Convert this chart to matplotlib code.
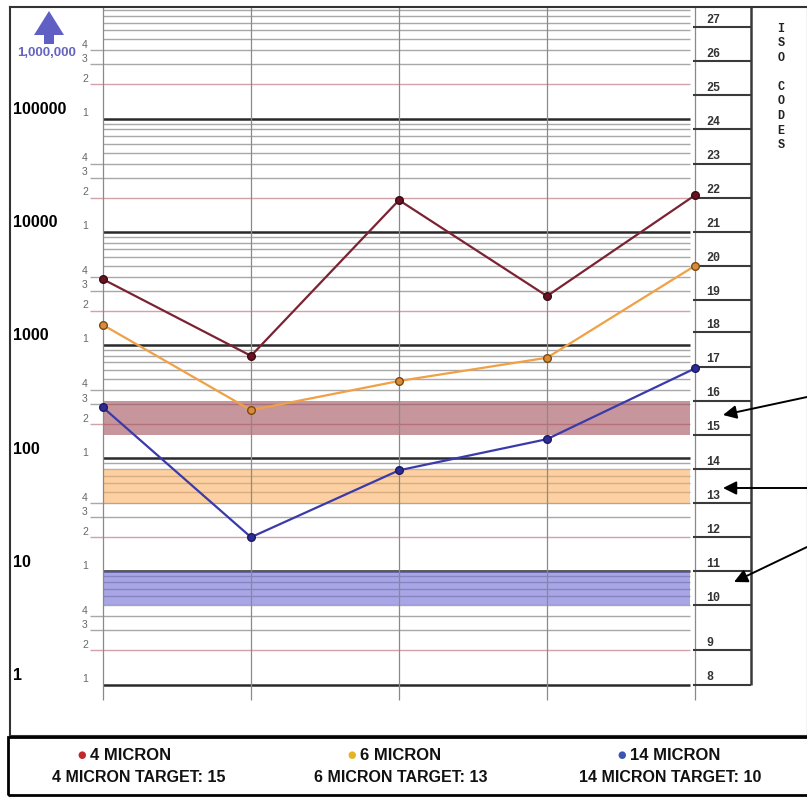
import numpy as np
import matplotlib
matplotlib.use('Agg')
import matplotlib.pyplot as plt
from matplotlib.patches import Rectangle, Polygon
from matplotlib.ticker import NullLocator

# ---------------- data ----------------
samples = [1, 2, 3, 4, 5]
micron4 = [3800, 800, 19000, 2700, 21000]
micron6 = [1500, 265, 480, 770, 5000]
micron14 = [280, 20, 78, 147, 620]
series_names = ['4 MICRON', '6 MICRON', '14 MICRON']
target_labels = ['4 MICRON TARGET: 15', '6 MICRON TARGET: 13', '14 MICRON TARGET: 10']
target_ranges = [(160, 320), (40, 80), (5, 10)]
iso_codes = list(range(8, 28))
iso_lower = [1, 2, 5, 10, 20, 40, 80, 160, 320, 640, 1300, 2500, 5000,
             10000, 20000, 40000, 80000, 160000, 320000, 640000]
decades = [1, 10, 100, 1000, 10000, 100000]
decade_labels = ['1', '10', '100', '1000', '10000', '100000']
minor_labels = ['1', '2', '3', '4']

# ---------------- geometry helpers ----------------
W, H = 807, 797
def px_x(px):
    return (px - 103) / 148.0
def px_y(py):
    return 10 ** ((684.5 - py) / 113.2)
def fx(px):
    return px / W
def fy(py):
    return 1 - py / H

fig = plt.figure(figsize=(W / 100, H / 100), dpi=100)
fig.patch.set_facecolor('white')
ax = fig.add_axes([fx(10), fy(736), (807 - 10) / W, (736 - 7) / H])
ax.set_yscale('log')
ax.set_xlim(px_x(10), px_x(807))
ax.set_ylim(px_y(736), px_y(7))
ax.set_xticks([])
ax.set_yticks([])
ax.yaxis.set_minor_locator(NullLocator())
for s in ['left', 'top', 'bottom']:
    ax.spines[s].set_color('#333333')
    ax.spines[s].set_linewidth(1.5)
ax.spines['right'].set_color('#c8c8c8')
ax.spines['right'].set_linewidth(1)

x0g, x1g, xtk = px_x(103), px_x(690), px_x(90)
top = px_y(7)

# horizontal log-paper lines
for d in decades:
    ax.hlines(d, x0g, x1g, color='#2a2a2a', lw=1.8, zorder=1.2)
    for m in range(2, 10):
        v = d * m
        if v > top:
            continue
        col = '#d2a2aa' if m == 2 else '#a8a8a8'
        xs = xtk if m <= 4 else x0g
        ax.hlines(v, xs, x1g, color=col, lw=1.0, zorder=1.1, clip_on=False)

# target bands (semi-transparent over the paper lines)
band_colors = ['#a3505a', '#fab164', '#716bd5']
for (lo, hi), c in zip(target_ranges, band_colors):
    ax.fill_between([x0g, x1g], lo, hi, color=c, alpha=0.6, lw=0, zorder=1.25)

# vertical gridlines
ax.vlines(range(len(samples)), px_y(700), top, color='#8a8a8a', lw=0.9, zorder=1.3)

# decade labels & minor labels
for d, lab in zip(decades, decade_labels):
    ax.text(px_x(13), d * 10 ** (9 / 113.2), lab, ha='left', va='center',
            fontsize=11.5, fontweight='bold', family='Liberation Sans', color='black')
    for m, ml in zip([1, 2, 3, 4], minor_labels):
        ax.text(px_x(85), d * m * 10 ** (0.5 / 113.2), ml, ha='center', va='bottom',
                fontsize=7.5, color='#666666', family='Liberation Sans')

# ISO code column
ax.hlines(iso_lower, px_x(693), px_x(751), color='#3a3a3a', lw=1.5, zorder=2)
ax.vlines(px_x(751), iso_lower[0], top, color='#3a3a3a', lw=1.8, zorder=2)
for code, lo in zip(iso_codes, iso_lower):
    ax.text(px_x(706), lo * 10 ** (7.5 / 113.2), str(code), ha='left', va='center',
            fontsize=8.5, fontweight='bold', family='Liberation Mono', color='#333333')
for i, ch in enumerate('ISO CODES'):
    if ch == ' ':
        continue
    ax.text(px_x(781), px_y(29 + 14.5 * i), ch, ha='center', va='center',
            fontsize=8.5, fontweight='bold', family='Liberation Mono', color='#222222')

# series
xs = range(len(samples))
ax.plot(xs, micron4, color='#7b2233', lw=1.6, marker='o', ms=5.5,
        mfc='#6a1020', mec='#3a0a12', zorder=5, clip_on=False)
ax.plot(xs, micron6, color='#f0a045', lw=1.6, marker='o', ms=5.5,
        mfc='#d98a3a', mec='#7a4a10', zorder=5, clip_on=False)
ax.plot(xs, micron14, color='#3a3aaa', lw=1.6, marker='o', ms=5.5,
        mfc='#2c2c98', mec='#1a1a60', zorder=5, clip_on=False)

# pointer arrows
for (tx, ty), (sx, sy) in [((723, 415), (807, 397)),
                           ((723, 488), (807, 488)),
                           ((734, 582), (807, 547))]:
    ax.annotate('', xy=(px_x(tx), px_y(ty)), xytext=(px_x(sx), px_y(sy)),
                arrowprops=dict(arrowstyle='-|>', color='black', lw=1.4,
                                mutation_scale=20, shrinkA=0, shrinkB=0),
                annotation_clip=False, zorder=6)

# purple "1,000,000" arrow
pts = [(49, 11), (64, 35), (54, 35), (54, 44), (44, 44), (44, 35), (34, 35)]
fig.add_artist(Polygon([(fx(a), fy(b)) for a, b in pts], closed=True,
                       transform=fig.transFigure, color='#6060c4', lw=0))
fig.text(fx(47), fy(53), '1,000,000', ha='center', va='center', fontsize=9.5,
         fontweight='bold', family='Liberation Sans', color='#6565c0')

# legend box
fig.add_artist(Rectangle((fx(8), fy(795)), (820 - 8) / W, (795 - 737) / H,
                         transform=fig.transFigure, fill=False, lw=2, ec='black'))
dot_colors = ['#c0282c', '#e6b422', '#3a56b0']
dot_x = [82, 352, 622]
row2_x = [139, 401, 670]
for name, tl, dc, dxp, r2 in zip(series_names, target_labels, dot_colors, dot_x, row2_x):
    fig.text(fx(dxp), fy(755), '\u25cf', ha='center', va='center', fontsize=7,
             color=dc, family='DejaVu Sans')
    fig.text(fx(dxp + 8), fy(755), name, ha='left', va='center', fontsize=12,
             fontweight='bold', family='Liberation Sans', color='#111111')
    fig.text(fx(r2), fy(777), tl, ha='center', va='center', fontsize=11.5,
             fontweight='bold', family='Liberation Sans', color='#111111')

fig.savefig('out.png', dpi=100)
